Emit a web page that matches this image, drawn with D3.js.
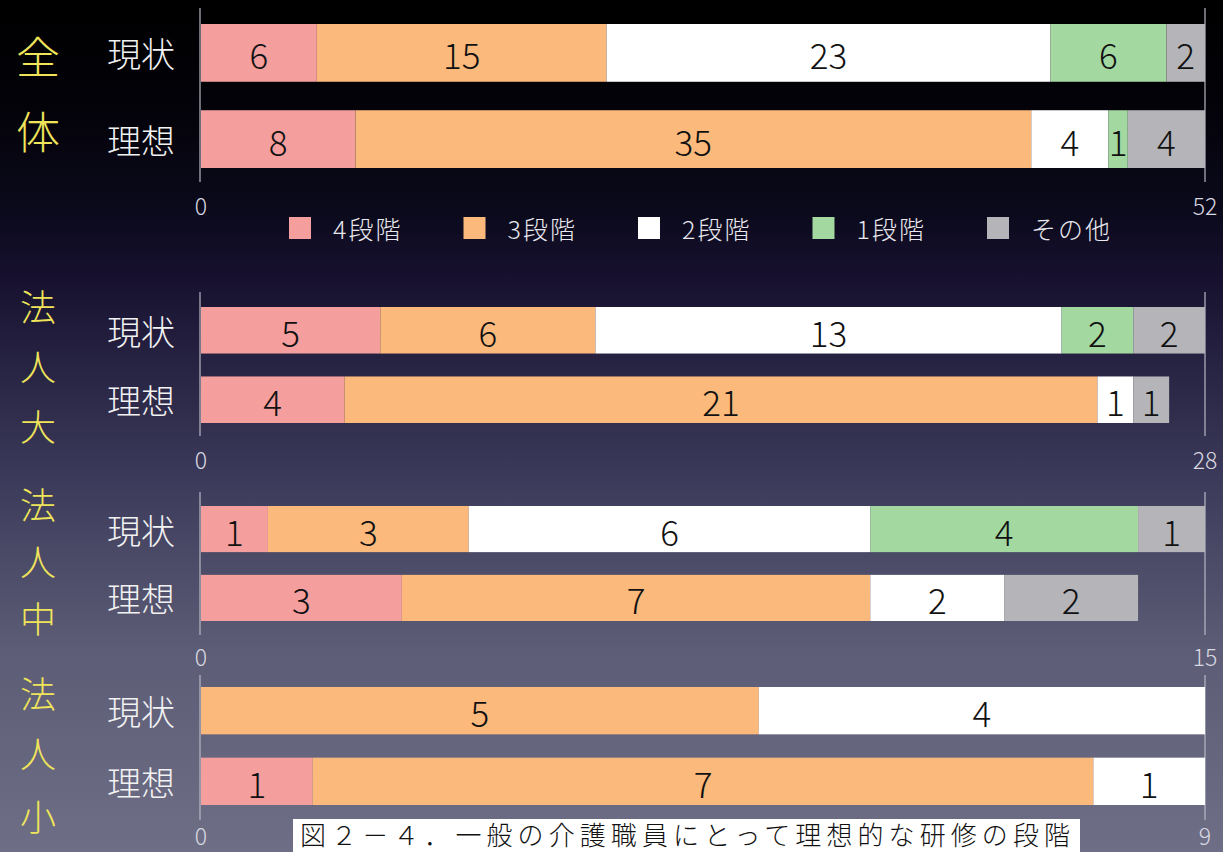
<!DOCTYPE html>
<html>
<head>
<meta charset="utf-8">
<script src="https://d3js.org/d3.v7.min.js"></script>
<style>
  body { margin: 0; background: #000; }
  svg { display: block; }
  text { font-family: "Noto Sans CJK JP", "Noto Sans", sans-serif; font-weight: 300; }
</style>
</head>
<body>
<svg id="chart" width="1223" height="852"></svg>
<script>
// data
const levels = ["4段階", "3段階", "2段階", "1段階", "その他"];
const rows = ["現状", "理想"];
const groups = ["全体", "法人大", "法人中", "法人小"];
const maxValues = [52, 28, 15, 9];
const currentValues = [
  [6, 15, 23, 6, 2],
  [5, 6, 13, 2, 2],
  [1, 3, 6, 4, 1],
  [0, 5, 4, 0, 0]
];
const idealValues = [
  [8, 35, 4, 1, 4],
  [4, 21, 1, 0, 1],
  [3, 7, 2, 0, 2],
  [1, 7, 1, 0, 0]
];
const caption = "図２－４．一般の介護職員にとって理想的な研修の段階";

const colors = ["#f49e9e", "#fbb97b", "#ffffff", "#a3d8a1", "#b5b5b9"];

const svg = d3.select("svg#chart");
const width = +svg.attr("width");
const height = +svg.attr("height");

// background gradient
const defs = svg.append("defs");
const grad = defs.append("linearGradient")
  .attr("id", "bg").attr("x1", 0).attr("y1", 0).attr("x2", 0).attr("y2", 1);
[[0, "#000000"], [0.12, "#030208"], [0.25, "#0b0a1c"], [0.32, "#16102e"],
 [0.55, "#3a3858"], [0.76, "#5c5c76"], [1, "#6e6e86"]].forEach(s => {
  grad.append("stop").attr("offset", s[0]).attr("stop-color", s[1]);
});
svg.append("rect").attr("width", width).attr("height", height).attr("fill", "url(#bg)");

// layout for each panel: bar band range, axis line extent, tick label y, group label positions
const panels = [
  { bars: [24, 168], line: [8, 182], tickY: 205, labelY: [55, 130], labelSize: 44 },
  { bars: [307, 423], line: [292, 436], tickY: 459, labelY: [305, 365, 425], labelSize: 36 },
  { bars: [506, 621], line: [492, 635], tickY: 656, labelY: [503, 560, 617], labelSize: 36 },
  { bars: [687, 805], line: [675, 820], tickY: 835, labelY: [692, 752, 815], labelSize: 36 }
];

const x0 = 201, x1 = 1205;

panels.forEach((p, i) => {
  const xScale = d3.scaleLinear().domain([0, maxValues[i]]).range([x0, x1]);
  const yScale = d3.scaleBand().domain(rows).range(p.bars).paddingInner(0.33).paddingOuter(0);

  const g = svg.append("g").attr("class", "panel");

  // axis lines
  [0, maxValues[i]].forEach(v => {
    g.append("line")
      .attr("x1", xScale(v) - (v === 0 ? 1 : 0)).attr("x2", xScale(v) - (v === 0 ? 1 : 0))
      .attr("y1", p.line[0]).attr("y2", p.line[1])
      .attr("stroke", "#b8b8c4").attr("stroke-width", 1.2);
  });

  // tick labels
  g.selectAll("text.tick")
    .data([0, maxValues[i]])
    .join("text")
    .attr("class", "tick")
    .attr("x", d => xScale(d))
    .attr("y", p.tickY)
    .attr("text-anchor", "middle")
    .attr("dominant-baseline", "central")
    .attr("font-size", 23)
    .attr("fill", "#d8d8e0")
    .text(d => d);

  // stacked bars
  [currentValues[i], idealValues[i]].forEach((vals, r) => {
    const segs = [];
    let acc = 0;
    vals.forEach((v, k) => { segs.push({ k, v, start: acc }); acc += v; });
    const row = g.append("g");
    const nonZero = segs.filter(s => s.v > 0);
    row.selectAll("rect")
      .data(nonZero)
      .join("rect")
      .attr("x", s => xScale(s.start))
      .attr("y", yScale(rows[r]))
      .attr("width", s => xScale(s.start + s.v) - xScale(s.start))
      .attr("height", yScale.bandwidth())
      .attr("fill", s => colors[s.k]);
    row.selectAll("text")
      .data(nonZero)
      .join("text")
      .attr("x", s => xScale(s.start + s.v / 2))
      .attr("y", yScale(rows[r]) + yScale.bandwidth() / 2 + 1)
      .attr("text-anchor", "middle")
      .attr("dominant-baseline", "central")
      .attr("font-size", 35)
      .attr("fill", "#111")
      .text(s => s.v);

    // row label
    g.append("text")
      .attr("x", 175)
      .attr("y", yScale(rows[r]) + yScale.bandwidth() / 2)
      .attr("text-anchor", "end")
      .attr("dominant-baseline", "central")
      .attr("font-size", 34)
      .attr("fill", "#f2f2f2")
      .text(rows[r]);
  });

  // group label, written vertically
  const chars = Array.from(groups[i]);
  g.selectAll("text.group")
    .data(chars)
    .join("text")
    .attr("class", "group")
    .attr("x", 38)
    .attr("y", (c, j) => p.labelY[j])
    .attr("text-anchor", "middle")
    .attr("dominant-baseline", "central")
    .attr("font-size", p.labelSize)
    .attr("fill", "#efe45a")
    .text(c => c);
});

// legend
const legend = svg.append("g").attr("transform", "translate(289,217)");
const legendX = d3.scalePoint().domain(levels).range([0, 698]);
const items = legend.selectAll("g").data(levels).join("g")
  .attr("transform", d => `translate(${legendX(d)},0)`);
items.append("rect")
  .attr("width", 22).attr("height", 22)
  .attr("fill", (d, k) => colors[k]);
items.append("text")
  .attr("x", 44).attr("y", 11)
  .attr("dominant-baseline", "central")
  .attr("font-size", 25)
  .attr("letter-spacing", 2)
  .attr("fill", "#e8e8ee")
  .text(d => d);

// caption
const cap = svg.append("g");
cap.append("rect")
  .attr("x", 293).attr("y", 819).attr("width", 787).attr("height", 40)
  .attr("fill", "#ffffff");
cap.append("text")
  .attr("x", 300).attr("y", 833)
  .attr("dominant-baseline", "central")
  .attr("font-size", 26)
  .attr("font-weight", 400)
  .attr("textLength", 770)
  .attr("fill", "#111")
  .text(caption);
</script>
</body>
</html>
